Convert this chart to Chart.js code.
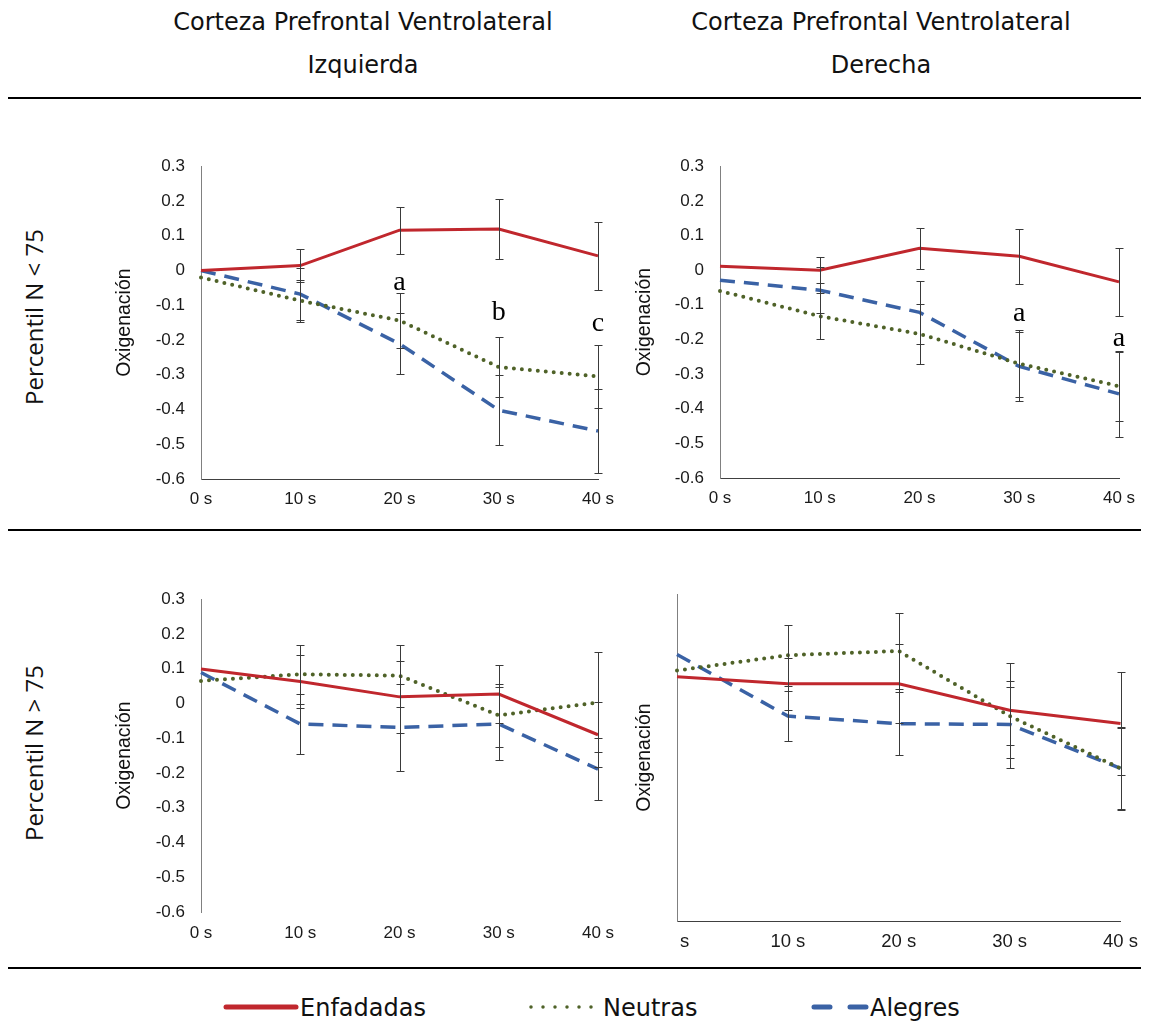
<!DOCTYPE html>
<html>
<head>
<meta charset="utf-8">
<script src="https://cdn.jsdelivr.net/npm/chart.js@4.4.1/dist/chart.umd.min.js"></script>
<style>
  body { margin: 0; background: #fff; }
  #hoja { position: relative; width: 1149px; height: 1030px; overflow: hidden; font-family: "DejaVu Sans", sans-serif; color: #111; }
  .cab { position: absolute; width: 560px; text-align: center; font-size: 24px; line-height: 24px; white-space: nowrap; }
  .fila { position: absolute; font-family: "Open Sans", sans-serif; font-size: 24px; white-space: nowrap; transform: translate(-50%, -50%) rotate(-90deg); }
  .regla { position: absolute; left: 8px; width: 1133px; height: 2px; background: #000; }
  .panel { position: absolute; }
  .ley { position: absolute; top: 994px; font-size: 24px; line-height: 28px; white-space: nowrap; }
  .ley svg { vertical-align: middle; margin-top: -4px; }
</style>
</head>
<body>
<div id="hoja">
  <div class="cab" style="left:83px; top:10px;">Corteza Prefrontal Ventrolateral</div>
  <div class="cab" style="left:83px; top:53px;">Izquierda</div>
  <div class="cab" style="left:601px; top:10px;">Corteza Prefrontal Ventrolateral</div>
  <div class="cab" style="left:601px; top:53px;">Derecha</div>
  <div class="regla" style="top:97px;"></div>
  <div class="regla" style="top:529px;"></div>
  <div class="regla" style="top:967px;"></div>
  <div class="fila" style="left:33px; top:317px;">Percentil N &lt; 75</div>
  <div class="fila" style="left:33px; top:753px;">Percentil N &gt; 75</div>

  <canvas id="p1" class="panel" width="516" height="379" style="left:112px; top:140px;"></canvas>
  <canvas id="p2" class="panel" width="515" height="378" style="left:632px; top:140px;"></canvas>
  <canvas id="p3" class="panel" width="516" height="379" style="left:112px; top:573px;"></canvas>
  <canvas id="p4" class="panel" width="516" height="397" style="left:632px; top:569px;"></canvas>

  <div class="ley" style="left:222px;"><svg width="78" height="10"><line x1="4" y1="5" x2="74" y2="5" stroke="#C0272D" stroke-width="5" stroke-linecap="round"/></svg>Enfadadas</div>
  <div class="ley" style="left:527px;"><svg width="76" height="10"><line x1="4" y1="5" x2="72" y2="5" stroke="#4F6228" stroke-width="3.5" stroke-dasharray="0 12" stroke-linecap="round"/></svg>Neutras</div>
  <div class="ley" style="left:808px;"><svg width="62" height="10"><line x1="6" y1="5" x2="58" y2="5" stroke="#3A62A5" stroke-width="5" stroke-dasharray="16 20" stroke-linecap="round"/></svg>Alegres</div>
</div>

<script>
const tiempos = ['0 s', '10 s', '20 s', '30 s', '40 s'];
const ticksOxigenacion = [0.3, 0.2, 0.1, 0, -0.1, -0.2, -0.3, -0.4, -0.5, -0.6];

// Izquierda, percentil N < 75
const izqMenorEnfadadas = [0, 0.014, 0.116, 0.119, 0.042];
const izqMenorEnfadadasErr = [null, 0.047, 0.068, 0.086, 0.098];
const izqMenorNeutras = [-0.02, -0.087, -0.144, -0.278, -0.305];
const izqMenorNeutrasErr = [null, 0.06, 0.08, 0.086, 0.09];
const izqMenorAlegres = [0, -0.068, -0.211, -0.402, -0.462];
const izqMenorAlegresErr = [null, 0.075, 0.088, 0.1, 0.12];

// Derecha, percentil N < 75
const derMenorEnfadadas = [0.011, 0, 0.063, 0.04, -0.034];
const derMenorEnfadadasErr = [null, 0.038, 0.06, 0.08, 0.098];
const derMenorNeutras = [-0.06, -0.133, -0.184, -0.27, -0.335];
const derMenorNeutrasErr = [null, 0.066, 0.086, 0.097, 0.1];
const derMenorAlegres = [-0.029, -0.058, -0.122, -0.278, -0.357];
const derMenorAlegresErr = [null, 0.067, 0.09, 0.1, 0.125];

// Izquierda, percentil N > 75
const izqMayorEnfadadas = [0.099, 0.063, 0.019, 0.027, -0.09];
const izqMayorEnfadadasErr = [null, 0.077, 0.104, 0.083, 0.093];
const izqMayorNeutras = [0.065, 0.084, 0.08, -0.034, 0.003];
const izqMayorNeutrasErr = [null, 0.085, 0.089, 0.09, 0.144];
const izqMayorAlegres = [0.089, -0.059, -0.069, -0.059, -0.189];
const izqMayorAlegresErr = [null, 0.087, 0.124, 0.105, 0.09];

// Derecha, percentil N > 75 (sin etiquetas en el eje y)
const derMayorEnfadadas = [0.102, 0.082, 0.082, 0.006, -0.032];
const derMayorEnfadadasErr = [null, 0.075, 0.113, 0.136, 0.147];
const derMayorNeutras = [0.12, 0.164, 0.176, -0.011, -0.161];
const derMayorNeutrasErr = [null, 0.088, 0.108, 0.083, 0.117];
const derMayorAlegres = [0.166, -0.011, -0.033, -0.035, -0.161];
const derMayorAlegresErr = [null, 0.071, 0.09, 0.124, 0.12];

// letras de significacion
const letrasIzqMenor = [
  { x: '20 s', y: -0.035, texto: 'a' },
  { x: '30 s', y: -0.12, texto: 'b' },
  { x: '40 s', y: -0.153, texto: 'c' }
];
const letrasDerMenor = [
  { x: '30 s', y: -0.126, texto: 'a' },
  { x: '40 s', y: -0.197, texto: 'a' }
];

const estilos = {
  Enfadadas: { borderColor: '#C0272D', borderWidth: 3, borderDash: [] },
  Neutras: { borderColor: '#4F6228', borderWidth: 4, borderDash: [0, 8], borderCapStyle: 'round' },
  Alegres: { borderColor: '#3A62A5', borderWidth: 3.5, borderDash: [15, 9] }
};

const barrasError = {
  id: 'barrasError',
  afterDatasetsDraw(chart) {
    const { ctx, scales: { x, y } } = chart;
    ctx.save();
    ctx.strokeStyle = '#3a3a3a';
    ctx.lineWidth = 1;
    chart.data.datasets.forEach(ds => {
      (ds.errores || []).forEach((e, i) => {
        if (e == null) return;
        const px = Math.round(x.getPixelForValue(i)) + 0.5;
        const arriba = Math.round(y.getPixelForValue(ds.data[i] + e)) + 0.5;
        const abajo = Math.round(y.getPixelForValue(ds.data[i] - e)) + 0.5;
        ctx.beginPath();
        ctx.moveTo(px, arriba); ctx.lineTo(px, abajo);
        ctx.moveTo(px - 4, arriba); ctx.lineTo(px + 4, arriba);
        ctx.moveTo(px - 4, abajo); ctx.lineTo(px + 4, abajo);
        ctx.stroke();
      });
    });
    ctx.restore();
  }
};

function pluginLetras(items) {
  return {
    id: 'letras',
    afterDraw(chart) {
      const { ctx, scales: { x, y } } = chart;
      ctx.save();
      ctx.fillStyle = '#000';
      ctx.font = '28px "Liberation Serif", serif';
      ctx.textAlign = 'center';
      ctx.textBaseline = 'middle';
      items.forEach(it => {
        ctx.fillText(it.texto, x.getPixelForValue(tiempos.indexOf(it.x)), y.getPixelForValue(it.y));
      });
      ctx.restore();
    }
  };
}

// tapa el "0" de la primera etiqueta, recortada en el original
const recorteEtiqueta = {
  id: 'recorteEtiqueta',
  afterDraw(chart) {
    const { ctx, chartArea, scales: { x } } = chart;
    ctx.save();
    ctx.fillStyle = '#fff';
    ctx.fillRect(0, x.top + 2, chartArea.left + 3, x.bottom - x.top);
    ctx.restore();
  }
};

function crearPanel(id, series, cfg) {
  const datasets = ['Enfadadas', 'Neutras', 'Alegres'].map((nombre, k) => Object.assign({
    label: nombre,
    data: series[k][0],
    errores: series[k][1],
    pointRadius: 0,
    tension: 0,
    fill: false
  }, estilos[nombre]));

  const plugins = [barrasError];
  if (cfg.letras) plugins.push(pluginLetras(cfg.letras));
  if (cfg.recorte) plugins.push(recorteEtiqueta);

  return new Chart(document.getElementById(id), {
    type: 'line',
    data: { labels: tiempos, datasets },
    plugins,
    options: {
      responsive: false,
      animation: false,
      devicePixelRatio: 1,
      layout: { padding: { top: 25, right: cfg.derecha, left: 0, bottom: 0 } },
      plugins: { legend: { display: false }, tooltip: { enabled: false } },
      scales: {
        x: {
          grid: { display: false, drawTicks: false },
          border: { display: cfg.ejeX, color: '#404040', width: 1 },
          ticks: { color: '#1a1a1a', padding: cfg.padX, font: { family: 'Liberation Sans', size: cfg.fuenteX }, maxRotation: 0, autoSkip: false },
          afterFit: s => { s.height = cfg.altoX; }
        },
        y: {
          min: -0.6,
          max: cfg.maxY,
          grid: { display: false, drawTicks: false },
          border: { display: true, color: '#808080', width: 1 },
          afterBuildTicks: s => { s.ticks = ticksOxigenacion.map(v => ({ value: v })); },
          ticks: {
            display: cfg.ticksY,
            color: '#1a1a1a',
            padding: 16,
            font: { family: 'Liberation Sans', size: 17 },
            callback: v => (Math.abs(v) < 1e-9 ? '0' : v.toFixed(1))
          },
          title: {
            display: true,
            text: 'Oxigenación',
            color: '#111',
            padding: { top: 1, bottom: 1 },
            font: { family: 'Liberation Sans', size: 19.5 }
          },
          afterFit: s => { s.width = cfg.anchoY; }
        }
      }
    }
  });
}

crearPanel('p1', [
  [izqMenorEnfadadas, izqMenorEnfadadasErr],
  [izqMenorNeutras, izqMenorNeutrasErr],
  [izqMenorAlegres, izqMenorAlegresErr]
], { derecha: 30, anchoY: 89, altoX: 40, padX: 10, fuenteX: 17, maxY: 0.3, ticksY: true, ejeX: true, letras: letrasIzqMenor });

crearPanel('p2', [
  [derMenorEnfadadas, derMenorEnfadadasErr],
  [derMenorNeutras, derMenorNeutrasErr],
  [derMenorAlegres, derMenorAlegresErr]
], { derecha: 28, anchoY: 88, altoX: 40, padX: 10, fuenteX: 17, maxY: 0.3, ticksY: true, ejeX: true, letras: letrasDerMenor });

crearPanel('p3', [
  [izqMayorEnfadadas, izqMayorEnfadadasErr],
  [izqMayorNeutras, izqMayorNeutrasErr],
  [izqMayorAlegres, izqMayorAlegresErr]
], { derecha: 30, anchoY: 89, altoX: 40, padX: 11, fuenteX: 17, maxY: 0.3, ticksY: true, ejeX: false });

crearPanel('p4', [
  [derMayorEnfadadas, derMayorEnfadadasErr],
  [derMayorNeutras, derMayorNeutrasErr],
  [derMayorAlegres, derMayorAlegresErr]
], { derecha: 20, anchoY: 45, altoX: 45, padX: 10, fuenteX: 18.5, maxY: 0.34, ticksY: false, ejeX: true, recorte: true });
</script>
</body>
</html>
